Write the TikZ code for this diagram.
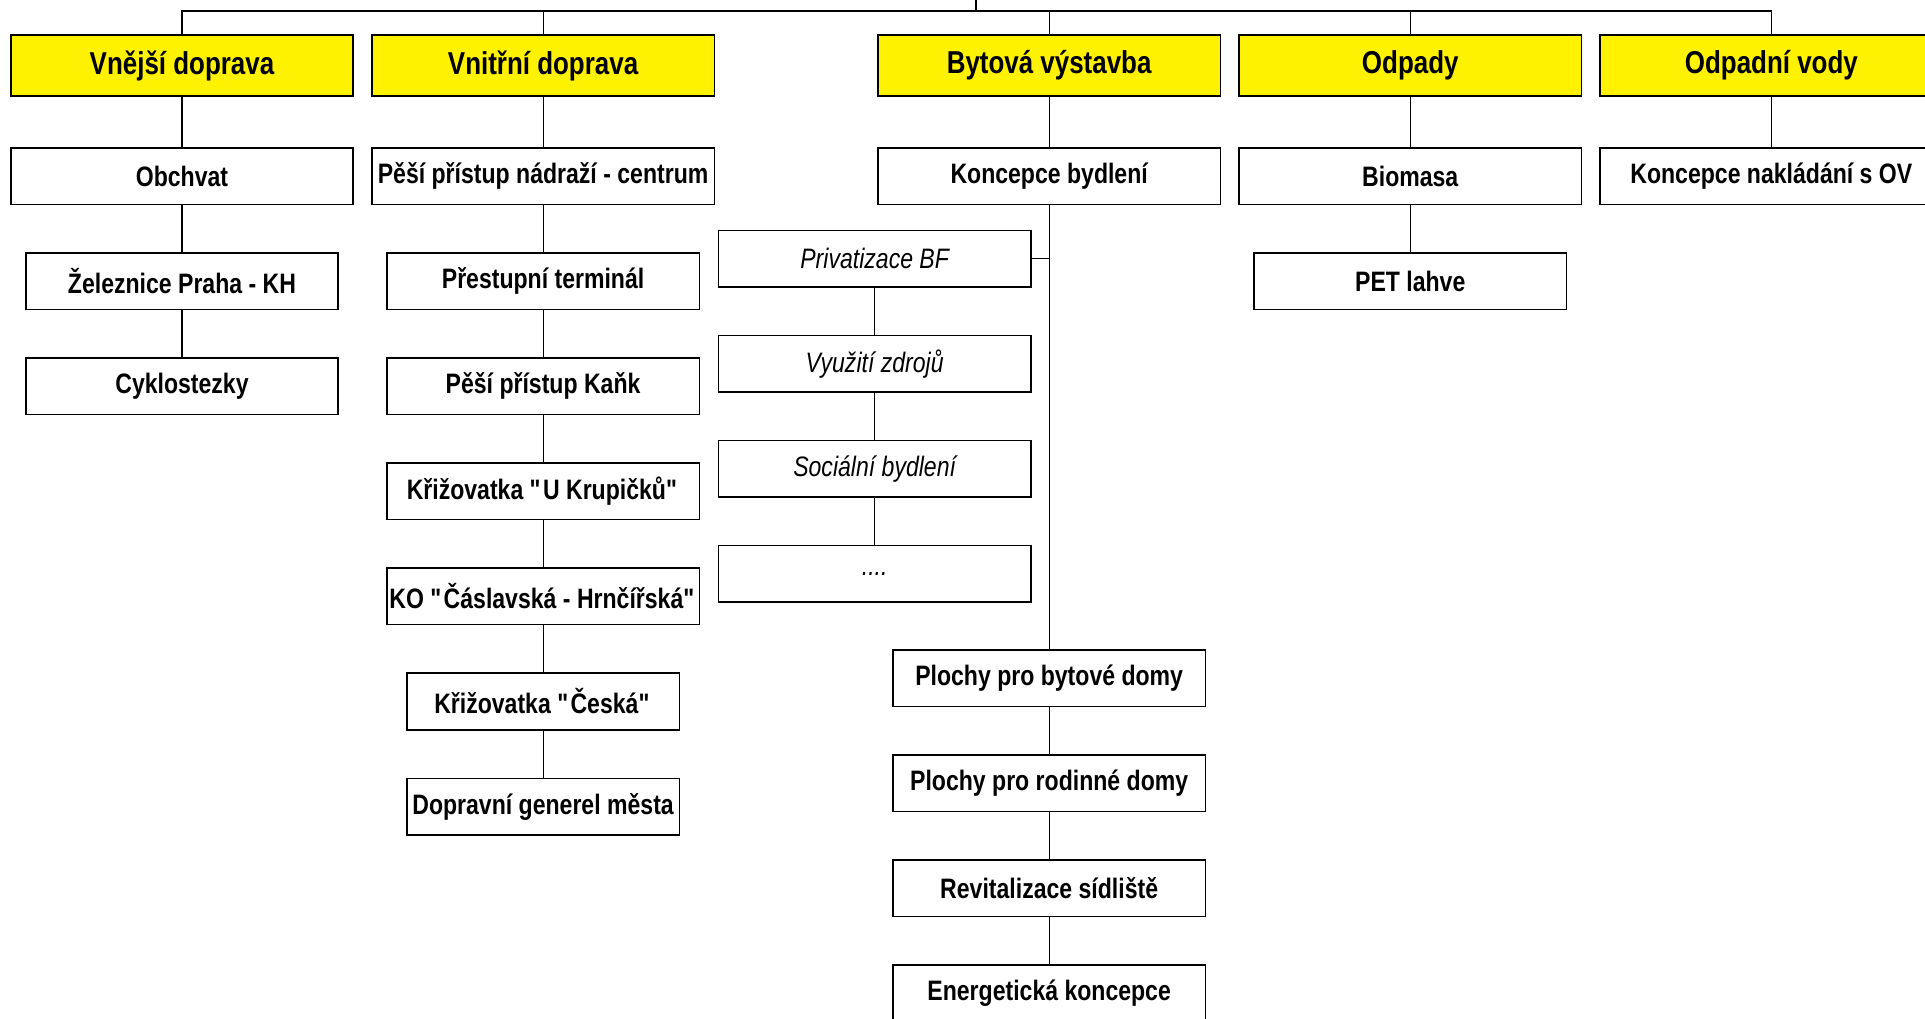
\documentclass[tikz,border=0pt]{standalone}
\usepackage{fontspec}
\setmainfont{Liberation Sans}[FakeStretch=0.82]
\usepackage{xcolor}
\usetikzlibrary{positioning,calc}

\tikzset{
	oblast/.style={rectangle, draw, line width=0.9pt, fill=yellow, minimum width=6.85cm, minimum height=1.21cm, inner sep=1pt, font=\fontsize{18}{21}\selectfont\bfseries},
	akce/.style={rectangle, draw, line width=0.9pt, fill=white, minimum width=6.25cm, minimum height=1.13cm, inner sep=1pt, font=\fontsize{16}{19}\selectfont\bfseries},
	hlavni/.style={akce, minimum width=6.85cm},
	uzsi/.style={akce, minimum width=5.45cm},
	podakce/.style={akce, font=\fontsize{16}{19}\selectfont\itshape},
	spoj/.style={line width=0.6pt}
}
\newcommand{\uvoz}[1]{\textquotedbl #1\textquotedbl}

\begin{document}
\begin{tikzpicture}
				\clip (0,0) rectangle (38.5,-20.38);
				% hlavni oblasti
				\node[oblast] (vne) at (3.64,-1.31) {Vnější doprava};
				\node[oblast, right=0.34cm of vne] (vni) {Vnitřní doprava};
				\node[oblast, right=3.24cm of vni] (byt) {Bytová výstavba};
				\node[oblast, right=0.34cm of byt] (odp) {Odpady};
				\node[oblast, right=0.34cm of odp] (ov) {Odpadní vody};
				\coordinate (bar) at (19.52,-0.22);
				
				% druha uroven
				\node[hlavni, below=1.01cm of vne] (obch) {Obchvat};
				\node[hlavni, below=1.01cm of vni] (pesi) {Pěší přístup nádraží - centrum};
				\node[hlavni, below=1.01cm of byt] (kon) {Koncepce bydlení};
				\node[hlavni, below=1.01cm of odp] (bio) {Biomasa};
				\node[hlavni, below=1.01cm of ov] (kno) {Koncepce nakládání s OV};
				
				% vnejsi doprava
				\node[akce, below=0.94cm of obch] (zel) {Železnice Praha - KH};
				\node[akce, below=0.94cm of zel] (cyk) {Cyklostezky};
				
				% vnitrni doprava
				\node[akce, below=0.94cm of pesi] (term) {Přestupní terminál};
				\node[akce, below=0.94cm of term] (kank) {Pěší přístup Kaňk};
				\node[akce, below=0.94cm of kank] (krup) {Křižovatka \uvoz{U Krupičků}};
				\node[akce, below=0.94cm of krup] (kocas) {KO \uvoz{Čáslavská - Hrnčířská}};
				\node[uzsi, below=0.94cm of kocas] (ces) {Křižovatka \uvoz{Česká}};
				\node[uzsi, below=0.94cm of ces] (gen) {Dopravní generel města};
				
				% bytova vystavba
				\node[podakce, below=0.49cm of kon, xshift=-3.49cm] (priv) {Privatizace BF};
				\node[podakce, below=0.94cm of priv] (zdr) {Využití zdrojů};
				\node[podakce, below=0.94cm of zdr] (soc) {Sociální bydlení};
				\node[podakce, below=0.94cm of soc] (dalsi) {....};
				\node[akce, below=8.88cm of kon] (pbd) {Plochy pro bytové domy};
				\node[akce, below=0.94cm of pbd] (prd) {Plochy pro rodinné domy};
				\node[akce, below=0.94cm of prd] (rev) {Revitalizace sídliště};
				\node[akce, below=0.94cm of rev] (ene) {Energetická koncepce};
				
				% odpady
				\node[akce, below=0.94cm of bio] (pet) {PET lahve};
				
				% spojnice
				\draw[spoj] (bar) -- ++(0,0.5);
				\draw[spoj] (vne.north) |- (bar) -| (ov.north);
				\foreach \n in {vni,byt,odp}
					\draw[spoj] (\n.north) -- (\n.north |- bar);
				\draw[spoj] (vne) -- (obch) -- (zel) -- (cyk);
				\draw[spoj] (vni) -- (pesi) -- (term) -- (kank) -- (krup) -- (kocas) -- (ces) -- (gen);
				\draw[spoj] (byt) -- (kon) -- (pbd) -- (prd) -- (rev) -- (ene);
				\draw[spoj] (priv) -- (zdr) -- (soc) -- (dalsi);
				\draw[spoj] (priv.east) -- (priv.east -| kon.south);
				\draw[spoj] (odp) -- (bio) -- (pet);
				\draw[spoj] (ov) -- (kno);
			\end{tikzpicture}
\end{document}
